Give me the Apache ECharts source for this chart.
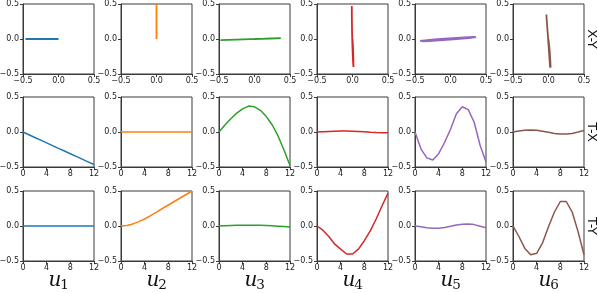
<!DOCTYPE html>
<html>
<head>
<meta charset="utf-8">
<script src="https://cdn.jsdelivr.net/npm/echarts@6/dist/echarts.min.js"></script>
<style>
html,body{margin:0;padding:0;background:#fff;}
#chart{width:598px;height:293px;}
</style>
</head>
<body>
<div id="chart"></div>
<script>
// time steps
const tSteps = [0,1,2,3,4,5,6,7,8,9,10,11,12];
// T-X values per control
const xU1 = [0,-0.039,-0.078,-0.116,-0.155,-0.194,-0.233,-0.271,-0.31,-0.349,-0.388,-0.426,-0.465];
const xU2 = [0,0,0,0,0,0,0,0,0,0,0,0,0];
const xU3 = [0,0.10,0.19,0.27,0.33,0.37,0.36,0.31,0.22,0.10,-0.06,-0.26,-0.48];
const xU4 = [0,0.004,0.008,0.011,0.013,0.014,0.012,0.008,0.003,-0.002,-0.006,-0.009,-0.01];
const xU5 = [0,-0.24,-0.37,-0.40,-0.31,-0.15,0.04,0.26,0.36,0.32,0.14,-0.19,-0.43];
const xU6 = [0,0.015,0.026,0.03,0.025,0.012,-0.004,-0.02,-0.03,-0.03,-0.02,0,0.022];
// T-Y values per control
const yU1 = [0,0,0,0,0,0,0,0,0,0,0,0,0];
const yU2 = [0,0.008,0.03,0.062,0.1,0.148,0.198,0.25,0.30,0.35,0.40,0.45,0.50];
const yU3 = [0,0.003,0.006,0.009,0.011,0.012,0.012,0.01,0.007,0.003,-0.002,-0.008,-0.015];
const yU4 = [0,-0.06,-0.15,-0.26,-0.33,-0.40,-0.40,-0.33,-0.21,-0.07,0.10,0.29,0.47];
const yU5 = [0,-0.01,-0.026,-0.033,-0.031,-0.02,-0.005,0.013,0.026,0.029,0.02,-0.003,-0.026];
const yU6 = [0,-0.15,-0.32,-0.41,-0.39,-0.24,-0.01,0.20,0.35,0.35,0.20,-0.08,-0.41];

const controlNames = ['1','2','3','4','5','6'];
const rowNames = ['X-Y','T-X','T-Y'];
const colors = ['#1f77b4','#ff7f0e','#2ca02c','#d62728','#9467bd','#8c564b'];

const xs = [xU1,xU2,xU3,xU4,xU5,xU6];
const ys = [yU1,yU2,yU3,yU4,yU5,yU6];

const lefts = [23,121,219,317,415,513];
const tops = [4,97,191];
const W = 71, H = 70;
const spine = '#3a3a3a';
const fmt = v => v.toFixed(1).replace('-', '\u2212');
const labelStyle = {fontFamily:'DejaVu Sans', fontSize:8, color:'#222'};

const grid = [], xAxis = [], yAxis = [], series = [];
let idx = 0;
for (let r = 0; r < 3; r++) {
  for (let c = 0; c < 6; c++) {
    grid.push({left: lefts[c], top: tops[r], width: W, height: H, show: true,
      borderColor: spine, borderWidth: 1, backgroundColor: 'transparent',
      containLabel: false, outerBoundsMode: 'none'});
    const isXY = r === 0;
    xAxis.push({type:'value', gridIndex: idx,
      min: isXY ? -0.5 : 0, max: isXY ? 0.5 : 12, interval: isXY ? 0.5 : 4,
      axisLine:{show:true, onZero:false, lineStyle:{color:spine, width:1}},
      axisTick:{show:true, length:3, lineStyle:{color:spine, width:1}},
      splitLine:{show:false},
      axisLabel: Object.assign({show:true, margin:3, showMinLabel:true, showMaxLabel:true,
        formatter: isXY ? fmt : (v => String(v))}, labelStyle)
    });
    yAxis.push({type:'value', gridIndex: idx, min:-0.5, max:0.5, interval:0.5,
      axisLine:{show:true, onZero:false, lineStyle:{color:spine, width:1}},
      axisTick:{show:true, length:3, lineStyle:{color:spine, width:1}},
      splitLine:{show:false},
      axisLabel: Object.assign({show:true, margin:4, showMinLabel:true, showMaxLabel:true, formatter: fmt}, labelStyle)
    });
    let data;
    if (r === 0) data = tSteps.map((t,i) => [xs[c][i], ys[c][i]]);
    else if (r === 1) data = tSteps.map((t,i) => [t, xs[c][i]]);
    else data = tSteps.map((t,i) => [t, ys[c][i]]);
    series.push({type:'line', xAxisIndex: idx, yAxisIndex: idx, data: data,
      showSymbol:false, symbol:'none', smooth:false, clip:false,
      lineStyle:{color: colors[c], width: r === 0 ? 1.8 : 1.5},
      emphasis:{disabled:true}, silent:true});
    idx++;
  }
}

const graphic = [];
rowNames.forEach((name, r) => {
  graphic.push({type:'text', x: 591, y: tops[r] + H/2, rotation: -Math.PI/2,
    style:{text: name, x:0, y:0, align:'center', verticalAlign:'middle',
      font: '13px "DejaVu Sans"', fill:'#111'}});
});
controlNames.forEach((n, c) => {
  const cx = lefts[c] + W/2;
  graphic.push({type:'text', x: cx - 3.5, y: 281,
    style:{text:'u', x:0, y:0, align:'center', verticalAlign:'middle',
      font:'italic 20px "DejaVu Serif"', fill:'#111'}});
  graphic.push({type:'text', x: cx + 6, y: 285.5,
    style:{text:n, x:0, y:0, align:'center', verticalAlign:'middle',
      font:'13.5px "DejaVu Serif"', fill:'#111'}});
});

const chart = echarts.init(document.getElementById('chart'), null, {renderer:'canvas'});
chart.setOption({animation:false, backgroundColor:'#fff', grid, xAxis, yAxis, series, graphic});
</script>
</body>
</html>
